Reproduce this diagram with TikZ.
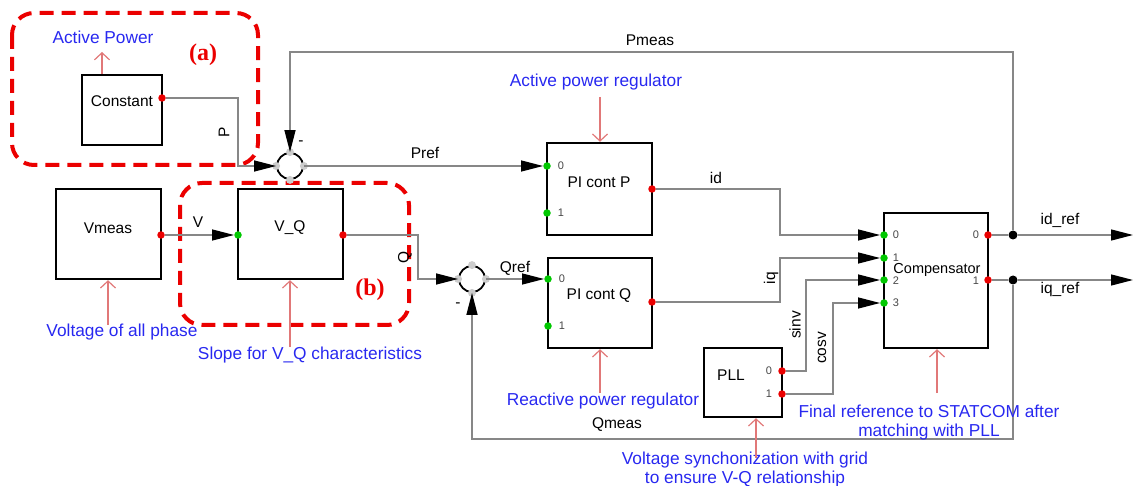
\documentclass[tikz,border=0pt]{standalone}
\usepackage{fontspec}
\setmainfont{Liberation Sans}
\newfontfamily\serifb{Liberation Serif}
\usetikzlibrary{arrows.meta,calc}
\definecolor{wiregray}{RGB}{135,135,135}
\definecolor{notepink}{RGB}{225,120,120}
\definecolor{noteblue}{RGB}{40,40,240}
\definecolor{dashred}{RGB}{235,0,0}
\definecolor{portgreen}{RGB}{0,200,0}
\definecolor{portred}{RGB}{235,0,0}
\definecolor{portlbl}{RGB}{70,70,70}
\begin{document}
\begin{tikzpicture}[x=1pt,y=-1pt,
  blk/.style={draw=black,line width=2.4pt,inner sep=0pt},
  wire/.style={draw=wiregray,line width=1.3pt},
  arr/.style={wire,-{Triangle[length=22pt,width=11pt,color=black]}},
  note/.style={draw=notepink,line width=1.2pt,-{Straight Barb[length=7pt,width=15pt]}},
  rdot/.style={circle,fill=portred,inner sep=0pt,minimum size=7.5pt},
  gdot/.style={circle,fill=portgreen,inner sep=0pt,minimum size=7.5pt},
  jdot/.style={circle,fill=black,inner sep=0pt,minimum size=9pt},
  summer/.style={circle,draw=black,line width=1.8pt,minimum size=26pt,inner sep=0pt},
  lbl/.style={font=\fontsize{15.5}{17}\selectfont,text=black,inner sep=0pt},
  plbl/.style={font=\fontsize{11}{12}\selectfont,text=portlbl,inner sep=0pt},
  btxt/.style={font=\fontsize{17.3}{19}\selectfont,text=noteblue,inner sep=0pt,align=center},
  tag/.style={font=\serifb\bfseries\fontsize{24}{26}\selectfont,text=dashred,inner sep=0pt},
  region/.style={draw=dashred,line width=4pt,dash pattern=on 14pt off 8pt,rounded corners=22pt}
]
\useasboundingbox (0,0) rectangle (1133,486);

% dashed regions
\draw[region] (12,13) rectangle (258,165);
\draw[region] (180,183) rectangle (409,325);
\node[tag] (taga) at (203,55) {(a)};
\node[tag] (tagb) at (370,290) {(b)};

% blocks
\node[blk,minimum width=80pt,minimum height=70pt] (const) at (122,110) {};
\node[lbl] (constl) at (122,101) {Constant};
\node[blk,minimum width=105pt,minimum height=90pt] (vmeas) at (108.5,234) {};
\node[lbl] (vmeasl) at (108,228) {Vmeas};
\node[blk,minimum width=105pt,minimum height=90pt] (vq) at (290.5,234) {};
\node[lbl] (vql) at (290,228) {V\_Q};
\node[blk,minimum width=105pt,minimum height=92pt] (picp) at (599.5,189) {};
\node[lbl] (picpl) at (599,182) {PI cont P};
\node[blk,minimum width=104pt,minimum height=90pt] (picq) at (600,303) {};
\node[lbl] (picql) at (599,296) {PI cont Q};
\node[blk,minimum width=78pt,minimum height=69pt] (pll) at (743,382.5) {};
\node[lbl] (plll) at (731,375) {PLL};
\node[blk,minimum width=104pt,minimum height=135pt] (comp) at (936,280.5) {};
\node[lbl,font=\fontsize{14.5}{16}\selectfont] (compl) at (937,270) {Compensator};

% summers
\node[summer] (s1) at (290,166) {};
\node[summer] (s2) at (472,279) {};
\foreach \s in {s1,s2}{
  \foreach \a in {north,south,east,west}{
    \fill[gray!40] (\s.\a) circle (4pt);
  }
}

% ports
\node[rdot] (cout) at (162,98) {};
\node[rdot] (vmo) at (161,235) {};
\node[gdot] (vqi) at (238,235) {};
\node[rdot] (vqo) at (343,235) {};
\node[gdot] (ppi0) at (547,166) {};
\node[gdot] (ppi1) at (547,213) {};
\node[rdot] (ppo) at (652,189) {};
\node[gdot] (pqi0) at (548,279) {};
\node[gdot] (pqi1) at (548,326) {};
\node[rdot] (pqo) at (652,302) {};
\node[rdot] (plo0) at (782,371) {};
\node[rdot] (plo1) at (782,394) {};
\node[gdot] (ci0) at (884,235) {};
\node[gdot] (ci1) at (884,258) {};
\node[gdot] (ci2) at (884,280) {};
\node[gdot] (ci3) at (884,303) {};
\node[rdot] (co0) at (988,235) {};
\node[rdot] (co1) at (988,280) {};
\node[jdot] (j1) at (1013,235) {};
\node[jdot] (j2) at (1013,280) {};
\coordinate (e1) at (1133,235);
\coordinate (e2) at (1133,280);

% port labels
\node[plbl] (lp0) at (561,166) {0};
\node[plbl] (lp1) at (561,213) {1};
\node[plbl] (lq0) at (562,279) {0};
\node[plbl] (lq1) at (562,326) {1};
\node[plbl] (ll0) at (769,371) {0};
\node[plbl] (ll1) at (769,394) {1};
\node[plbl] (lc0) at (896,235) {0};
\node[plbl] (lc1) at (896,258) {1};
\node[plbl] (lc2) at (896,281) {2};
\node[plbl] (lc3) at (896,303) {3};
\node[plbl] (lo0) at (976,235) {0};
\node[plbl] (lo1) at (976,281) {1};

% wires
\draw[arr] (cout) -- ++(76,0) |- (s1.west);
\draw[arr] (j1) -- ++(0,-183) -| (s1.north);
\draw[arr] (s1.east) -- (ppi0);
\draw[arr] (vmo) -- (vqi);
\draw[arr] (vqo) -- ++(75,0) |- (s2.west);
\draw[arr] (s2.east) -- (pqi0);
\draw[arr] (ppo) -- ++(128,0) |- (ci0);
\draw[arr] (pqo) -- ++(128,0) |- (ci1);
\draw[arr] (plo0) -- ++(24,0) |- (ci2);
\draw[arr] (plo1) -- ++(51,0) |- (ci3);
\draw[wire] (co0) -- (j1);
\draw[arr] (j1) -- (e1);
\draw[wire] (co1) -- (j2);
\draw[arr] (j2) -- (e2);
\draw[arr] (j2) -- ++(0,159) -| (s2.south);

% wire labels
\node[lbl] (tpmeas) at (650,40) {Pmeas};
\node[lbl,rotate=90] (tp) at (224,132) {P};
\node[lbl] (tm1) at (301,143) {-};
\node[lbl] (tpref) at (425,153) {Pref};
\node[lbl] (tv) at (198,222) {V};
\node[lbl,rotate=90] (tq) at (405,257) {Q};
\node[lbl] (tqref) at (515,268) {Qref};
\node[lbl] (tm2) at (458,305) {-};
\node[lbl] (tid) at (716,178) {id};
\node[lbl,rotate=90] (tiq) at (771,278) {iq};
\node[lbl,rotate=90] (tsinv) at (795,325) {sinv};
\node[lbl,rotate=90] (tcosv) at (822,348) {cosv};
\node[lbl] (tidr) at (1060,220) {id\_ref};
\node[lbl] (tiqr) at (1060,289) {iq\_ref};
\node[lbl] (tqmeas) at (617,425) {Qmeas};

% annotations
\node[btxt] (nap) at (103,37) {Active Power};
\draw[note] (const.north -| 102,0) -- (102,52);
\node[btxt] (napr) at (596,82) {Active power regulator};
\draw[note] (600,97) -- (picp.north -| 600,0);
\node[btxt] (nvap) at (122,332) {Voltage of all phase};
\draw[note] (108,325) -- (vmeas.south -| 108,0);
\node[btxt] (nslope) at (310,355) {Slope for V\_Q characteristics};
\draw[note] (290,347) -- (vq.south -| 290,0);
\node[btxt] (nrpr) at (603,401) {Reactive power regulator};
\draw[note] (600,393) -- (picq.south);
\node[btxt] (nsync) at (745,470) {Voltage synchonization with grid\\to ensure V-Q relationship};
\draw[note] (756,458) -- (pll.south -| 756,0);
\node[btxt] (nfinal) at (929,423) {Final reference to STATCOM after\\matching with PLL};
\draw[note] (937,393) -- (comp.south -| 937,0);
\end{tikzpicture}
\end{document}
